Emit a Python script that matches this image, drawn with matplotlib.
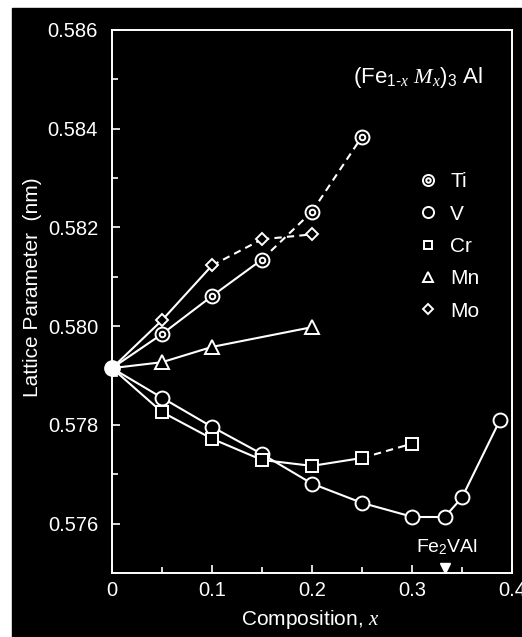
import matplotlib
matplotlib.use('Agg')
from matplotlib import pyplot as plt
from matplotlib.patches import Rectangle
from matplotlib.ticker import MultipleLocator, FixedLocator

plt.rcParams['font.family'] = ['Liberation Sans', 'DejaVu Sans']
plt.rcParams['mathtext.fontset'] = 'custom'
plt.rcParams['mathtext.rm'] = 'Liberation Sans'
plt.rcParams['mathtext.it'] = 'Liberation Serif:italic'

# lattice parameter of Fe3Al (x = 0), shared starting point of every series
x0 = 0.0
a0 = 0.57915

ti_x = [0.05, 0.10, 0.15, 0.20, 0.25]
ti_a = [0.57984, 0.58061, 0.58135, 0.58232, 0.58384]

v_x = [0.05, 0.10, 0.15, 0.20, 0.25, 0.30, 0.333, 0.35, 0.388]
v_a = [0.57855, 0.57796, 0.57741, 0.57681, 0.57642, 0.57614, 0.57614, 0.57653, 0.57810]

cr_x = [0.05, 0.10, 0.15, 0.20, 0.25, 0.30]
cr_a = [0.57826, 0.57772, 0.57729, 0.57717, 0.57733, 0.57762]

mn_x = [0.05, 0.10, 0.20]
mn_a = [0.57927, 0.57958, 0.57998]

mo_x = [0.05, 0.10, 0.15, 0.20]
mo_a = [0.58012, 0.58123, 0.58176, 0.58186]

fe2val_x = 0.333

FG = 'white'
BG = 'black'


def draw_series(ax, xs, ys, dash_from=None):
    # connect from the Fe3Al point; segments beyond dash_from are dashed
    px = [x0] + list(xs)
    py = [a0] + list(ys)
    for i in range(len(px) - 1):
        ls = '--' if (dash_from is not None and px[i] >= dash_from - 1e-9) else '-'
        ax.plot(px[i:i + 2], py[i:i + 2], color=FG, lw=1.5, ls=ls,
                dashes=(3.5, 2.5) if ls == '--' else (None, None), zorder=2)


fig = plt.figure(figsize=(5.22, 6.37), dpi=100, facecolor='white')
fig.patches.append(Rectangle((12 / 522, 0), 1, (637 - 8) / 637,
                             transform=fig.transFigure, color=BG, zorder=-5))
ax = fig.add_axes([112 / 522, 64 / 637, 400 / 522, 543 / 637])
ax.set_facecolor(BG)

draw_series(ax, ti_x, ti_a, dash_from=0.15)
draw_series(ax, mo_x, mo_a, dash_from=0.10)
draw_series(ax, mn_x, mn_a)
draw_series(ax, v_x, v_a)
draw_series(ax, cr_x, cr_a, dash_from=0.25)

mk = dict(ls='none', mfc=BG, mec=FG, mew=1.4, zorder=3)
ti_outer, = ax.plot(ti_x, ti_a, marker='o', ms=10, **mk)
ti_inner, = ax.plot(ti_x, ti_a, marker='o', ms=4, **mk)
v_h, = ax.plot(v_x, v_a, marker='o', ms=10, **mk)
cr_h, = ax.plot(cr_x, cr_a, marker='s', ms=8, **mk)
mn_h, = ax.plot(mn_x, mn_a, marker='^', ms=9.5, **mk)
mo_h, = ax.plot(mo_x, mo_a, marker='D', ms=6.5, **mk)
ax.plot([x0], [a0], marker='o', ms=11, color=FG, ls='none', zorder=4, clip_on=False)

ax.set_xlim(0, 0.4)
ax.set_ylim(0.575, 0.586)

for s in ax.spines.values():
    s.set_color(FG)
    s.set_linewidth(1.4)

ax.xaxis.set_major_locator(FixedLocator([0, 0.1, 0.2, 0.3, 0.4]))
ax.xaxis.set_minor_locator(MultipleLocator(0.05))
ax.set_xticklabels(['0', '0.1', '0.2', '0.3', '0.4'])
ax.yaxis.set_major_locator(MultipleLocator(0.002))
ax.yaxis.set_minor_locator(MultipleLocator(0.001))
ax.yaxis.set_major_formatter(plt.FormatStrFormatter('%.3f'))
ax.tick_params(which='both', direction='in', colors=FG, top=False, right=False,
               labelsize=14.5, width=1.2)
ax.tick_params(which='major', length=6)
ax.tick_params(which='minor', length=4)
ax.tick_params(axis='y', pad=10)
ax.tick_params(axis='x', pad=6)

ax.set_xlabel('Composition, $x$', color=FG, fontsize=15)
ax.set_ylabel('Lattice Parameter  (nm)', color=FG, fontsize=15)
ax.xaxis.set_label_coords(0.495, -0.064)
ax.yaxis.set_label_coords(-0.175, 0.527)

ax.text(0.371, 0.58503, r'(Fe$_{1\text{-}x}$ $M_x$)$_3$ Al', color=FG, fontsize=16,
        ha='right', va='center')

# Fe2VAl stoichiometry marker on the x axis
ax.plot([fe2val_x], [0.5751], marker='v', ms=7, color=FG, ls='none', clip_on=False, zorder=5)
ax.text(fe2val_x + 0.002, 0.57553, 'Fe$_2$VAl', color=FG, fontsize=14, ha='center', va='center')

leg = ax.legend([(ti_outer, ti_inner), v_h, cr_h, mn_h, mo_h],
                ['Ti', 'V', 'Cr', 'Mn', 'Mo'],
                loc='upper left', bbox_to_anchor=(0.765, 0.738), frameon=False,
                fontsize=15, handlelength=1.0, handletextpad=0.55, labelspacing=0.64,
                borderpad=0, borderaxespad=0, markerscale=0.8)
for t in leg.get_texts():
    t.set_color(FG)

fig.savefig('out.png', dpi=100, facecolor='white')
